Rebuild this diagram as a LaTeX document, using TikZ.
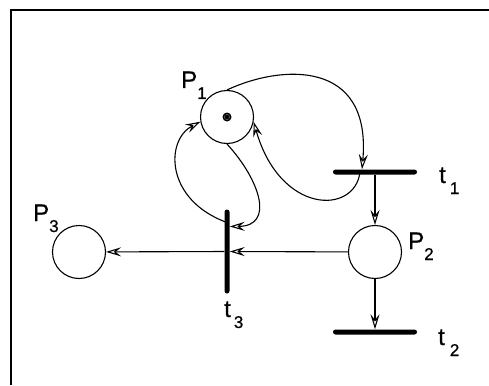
\documentclass[tikz,border=0pt]{standalone}
\usepackage{fontspec}
\setmainfont{Liberation Sans}
\newfontfamily\lblfont[FakeBold=0.6]{Liberation Sans}
\usetikzlibrary{arrows.meta}
\newcommand{\sublbl}[2]{#1\raisebox{-11pt}{\fontsize{17}{17}\selectfont #2}}
\tikzset{
  place/.style={circle, draw, line width=1.1pt, minimum size=53pt, inner sep=0pt},
  hbar/.style={rectangle, fill=black, rounded corners=2.5pt, minimum width=84pt, minimum height=5pt, inner sep=0pt},
  vbar/.style={hbar, minimum width=5pt, minimum height=84pt},
  lbl/.style={anchor=base west, inner sep=0pt, font=\lblfont\fontsize{24}{24}\selectfont},
  arc/.style={line width=1.1pt, -{Stealth[open, length=15pt, width=9pt, inset=5.5pt]}}
}
\begin{document}
\begin{tikzpicture}[x=1pt, y=-1pt]
    \useasboundingbox (0,0) rectangle (489,385);
    \draw[line width=2pt] (11,385) -- (11,10) -- (489,10);
    % places
    \node[place] (P1) at (227,117) {};
    \node[place] (P2) at (375,252) {};
    \node[place] (P3) at (79,252) {};
    \fill (P1) circle[radius=4.5pt];
    \draw[gray, line width=0.4pt] (P1) circle[radius=2.6pt];
    % transitions
    \node[hbar] (t1) at (375,172) {};
    \node[hbar] (t2) at (375,332) {};
    \node[vbar] (t3) at (227,251.5) {};
    % labels
    \node[lbl] (P1lbl) at (181,88) {\sublbl{P}{1}};
    \node[lbl] (P2lbl) at (408,249) {\sublbl{P}{2}};
    \node[lbl] (P3lbl) at (33,221) {\sublbl{P}{3}};
    \node[lbl] (t1lbl) at (439,183) {\sublbl{t\kern4pt}{1}};
    \node[lbl] (t2lbl) at (438,345) {\sublbl{t\kern5pt}{2}};
    \node[lbl] (t3lbl) at (224,317) {\sublbl{t\kern3pt}{3}};
    % arcs
    \draw[arc] (P1.north) .. controls (280,65) and (372,58) .. ([xshift=-13pt]t1.north);
    \draw[arc] ([xshift=-15pt]t1.center) .. controls (355,215) and (280,215) .. (P1.-10);
    \draw[arc] (P1.south) .. controls (260,180) and (275,226) .. ([yshift=25pt]t3.east);
    \draw[arc] ([yshift=29pt]t3.center) .. controls (165,200) and (165,140) .. (P1.190);
    \draw[arc] (t1) -- (P2);
    \draw[arc] (P2) -- (t2);
    \draw[arc] (P2) -- (t3);
    \draw[arc] (t3) -- (P3);
\end{tikzpicture}
\end{document}
